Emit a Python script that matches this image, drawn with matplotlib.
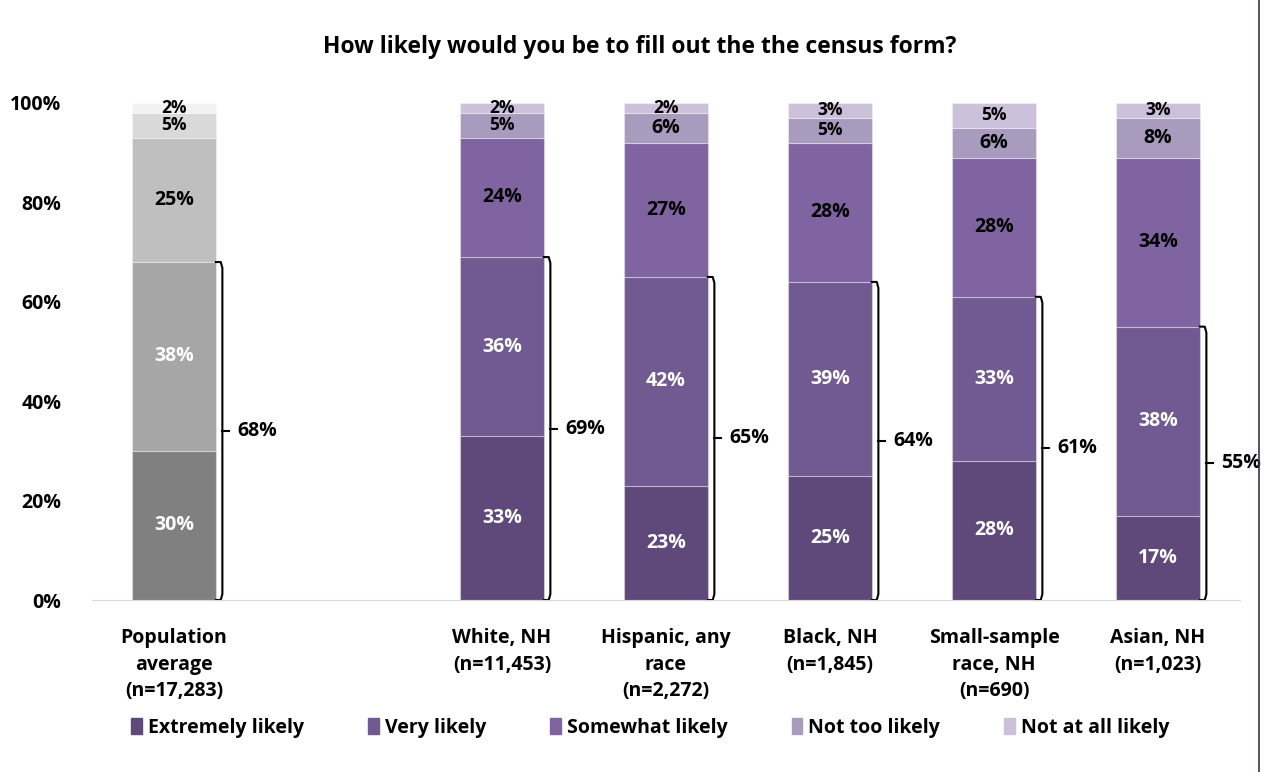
import matplotlib
matplotlib.use("Agg")
import matplotlib.pyplot as plt
from matplotlib.patches import Patch
import numpy as np

plt.rcParams['font.family'] = ['Open Sans', 'DejaVu Sans']
plt.rcParams['font.weight'] = 'bold'

groups = ['Population\naverage\n(n=17,283)', 'White, NH\n(n=11,453)', 'Hispanic, any\nrace\n(n=2,272)',
          'Black, NH\n(n=1,845)', 'Small-sample\nrace, NH\n(n=690)', 'Asian, NH\n(n=1,023)']
xpos = [0, 2, 3, 4, 5, 6]
series = ['Extremely likely', 'Very likely', 'Somewhat likely', 'Not too likely', 'Not at all likely']
extremely = [30, 33, 23, 25, 28, 17]
very = [38, 36, 42, 39, 33, 38]
somewhat = [25, 24, 27, 28, 28, 34]
not_too = [5, 5, 6, 5, 6, 8]
not_at_all = [2, 2, 2, 3, 5, 3]
top2 = [68, 69, 65, 64, 61, 55]

purples = ['#5f497a', '#715a91', '#8064a2', '#a99bbd', '#ccc1da']
grays = ['#808080', '#a6a6a6', '#bfbfbf', '#d9d9d9', '#f2f2f2']
label_col = ['white', 'white', 'black', 'black', 'black']
FS = 14

fig = plt.figure(figsize=(12.8, 7.72), dpi=100)
ax = fig.add_axes([92/1280, 1 - 600/772, (1240-92)/1280, (600-103)/772])

data = [extremely, very, somewhat, not_too, not_at_all]
w = 0.51
bottoms = np.zeros(len(xpos))
for k, vals in enumerate(data):
    vals = np.array(vals)
    cols = [grays[k]] + [purples[k]] * (len(xpos) - 1)
    ax.bar(xpos, vals / 100, w, bottom=bottoms / 100, color=cols, edgecolor=(1, 1, 1, 0.35),
           linewidth=0.8, label=series[k])
    for x, v, b in zip(xpos, vals, bottoms):
        # small top segments get a slightly smaller label so they don't collide
        fs = 12.5 if v <= 5 else FS
        ax.text(x, (b + v / 2) / 100, f'{v}%', ha='center', va='center', fontsize=fs,
                fontweight='bold', color=label_col[k])
    bottoms += vals

# brackets for extremely + very likely
for x, t in zip(xpos, top2):
    edge = x + w / 2
    vx = edge + 0.04
    top = t / 100
    h = 0.012
    ax.plot([edge, vx - 0.01, vx, vx, vx - 0.01, edge],
            [top, top, top - h, h, 0, 0], color='black', lw=1.5, clip_on=False)
    ax.plot([vx, vx + 0.04], [top / 2, top / 2], color='black', lw=1.5, clip_on=False)
    ax.text(vx + 0.09, top / 2, f'{t}%', ha='left', va='center', fontsize=FS,
            fontweight='bold', clip_on=False)

ax.set_xlim(-0.5, 6.5)
ax.set_ylim(0, 1)
ax.set_yticks(np.arange(0, 1.01, 0.2))
ax.set_yticklabels([f'{int(v*100)}%' for v in np.arange(0, 1.01, 0.2)], fontsize=FS, fontweight='bold')
ax.set_xticks(xpos)
ax.set_xticklabels(groups, fontsize=FS, fontweight='bold', linespacing=1.45)
ax.tick_params(length=0, pad=20)
ax.tick_params(axis='y', pad=22)
for s in ['left', 'right', 'top']:
    ax.spines[s].set_visible(False)
ax.spines['bottom'].set_color('#d9d9d9')

fig.text(0.5, 1 - 47/772, 'How likely would you be to fill out the the census form?', ha='center',
         va='center', fontsize=16.5, fontweight='bold')

handles = [Patch(color=c) for c in purples]
fig.legend(handles, series, loc='center', bbox_to_anchor=(0.508, 1 - 728/772), ncol=5, frameon=False,
           fontsize=FS, handlelength=0.55, handleheight=0.9, handletextpad=0.3, columnspacing=3.3)

fig.add_artist(plt.Line2D([1259/1280, 1259/1280], [0, 1], color='#3f3151', lw=1.2))

fig.savefig('out.png', dpi=100)
